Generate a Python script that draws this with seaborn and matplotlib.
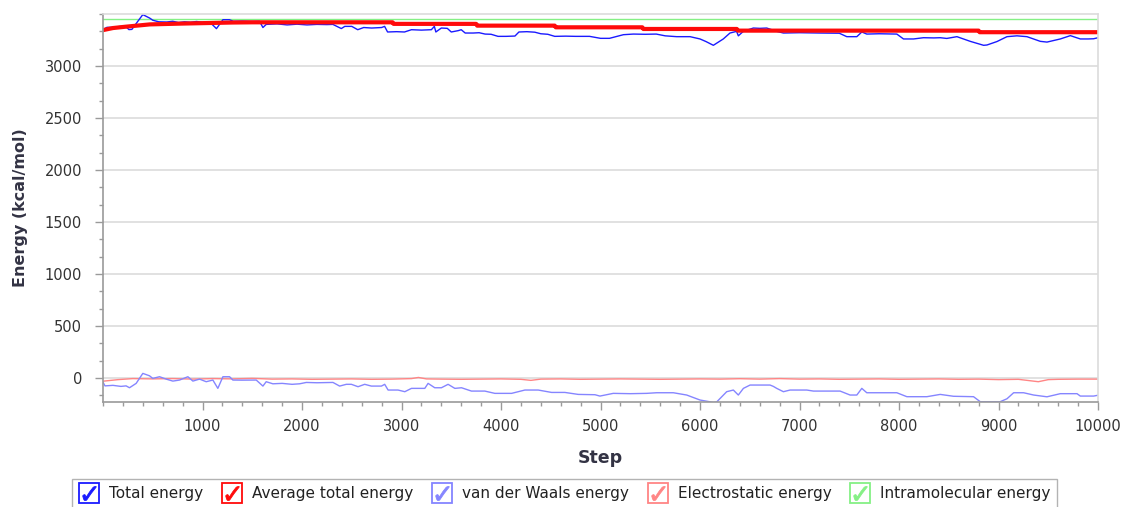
import matplotlib
matplotlib.use("Agg")
import matplotlib.pyplot as plt
from matplotlib.lines import Line2D
from matplotlib.legend_handler import HandlerTuple
from matplotlib.ticker import MultipleLocator, AutoMinorLocator
import seaborn as sns
import pandas as pd

# ---- series data (step, kcal/mol) ----
total_steps = [0, 40, 100, 170, 230, 260, 290, 350, 400, 470, 500, 560, 640, 700, 760, 820, 880,
               940, 1000, 1070, 1140, 1205, 1270, 1310, 1400, 1500, 1573, 1607, 1640, 1750, 1850,
               1950, 2050, 2150, 2250, 2310, 2395, 2430, 2500, 2560, 2620, 2700, 2800, 2830, 2860,
               2950, 3030, 3100, 3200, 3300, 3330, 3345, 3400, 3460, 3500, 3570, 3600, 3640, 3720,
               3780, 3840, 3900, 3970, 4050, 4140, 4180, 4260, 4340, 4400, 4470, 4540, 4650, 4750,
               4890, 5000, 5090, 5230, 5330, 5450, 5560, 5650, 5765, 5900, 6000, 6060, 6134, 6234,
               6301, 6368, 6385, 6435, 6536, 6600, 6670, 6771, 6838, 7000, 7200, 7400, 7475, 7576,
               7626, 7676, 7800, 7978, 8045, 8146, 8246, 8350, 8414, 8480, 8582, 8716, 8850, 8884,
               8984, 9085, 9185, 9286, 9420, 9487, 9621, 9722, 9822, 9900, 9956, 10000]
total_energy = [3349, 3372, 3372, 3380, 3378, 3350, 3352, 3430, 3494, 3460, 3440, 3425, 3423, 3430,
                3418, 3425, 3420, 3428, 3420, 3425, 3359, 3445, 3445, 3430, 3432, 3428, 3430, 3370,
                3400, 3405, 3395, 3402, 3395, 3400, 3398, 3400, 3360, 3381, 3381, 3349, 3370, 3365,
                3370, 3381, 3327, 3330, 3327, 3349, 3345, 3349, 3381, 3327, 3365, 3362, 3327, 3340,
                3349, 3317, 3317, 3320, 3307, 3305, 3285, 3285, 3288, 3327, 3330, 3325, 3310, 3305,
                3285, 3287, 3285, 3285, 3266, 3266, 3301, 3307, 3305, 3307, 3290, 3282, 3282, 3260,
                3235, 3199, 3260, 3317, 3333, 3290, 3333, 3365, 3362, 3365, 3333, 3317, 3320, 3317,
                3315, 3282, 3282, 3327, 3307, 3310, 3307, 3260, 3260, 3272, 3270, 3272, 3265, 3282,
                3237, 3199, 3202, 3235, 3282, 3290, 3282, 3237, 3230, 3260, 3292, 3260, 3260, 3262,
                3272]

avg_steps = [0, 100, 230, 470, 800, 1300, 1500, 2910, 2920, 3750, 3760, 4540, 4550, 5420, 5430,
             6370, 6380, 8800, 8810, 10000]
avg_energy = [3345, 3365, 3378, 3400, 3408, 3418, 3420, 3420, 3405, 3405, 3388, 3388, 3372, 3372,
              3356, 3356, 3340, 3340, 3325, 3325]

vdw_steps = [0, 20, 100, 180, 232, 266, 333, 400, 467, 500, 568, 635, 702, 769, 853, 903, 970,
             1037, 1104, 1154, 1205, 1272, 1305, 1400, 1540, 1607, 1640, 1707, 1800, 1900, 1976,
             2043, 2150, 2311, 2378, 2445, 2496, 2563, 2630, 2697, 2798, 2831, 2865, 2965, 3033,
             3100, 3234, 3267, 3334, 3401, 3468, 3536, 3603, 3703, 3837, 3938, 4106, 4240, 4374,
             4508, 4642, 4776, 4944, 4994, 5128, 5300, 5463, 5564, 5732, 5866, 6000, 6134, 6167,
             6268, 6335, 6385, 6436, 6503, 6637, 6704, 6737, 6771, 6838, 6905, 7073, 7140, 7408,
             7508, 7576, 7626, 7676, 7810, 7978, 8079, 8280, 8414, 8548, 8749, 8816, 9017, 9085,
             9152, 9252, 9353, 9487, 9621, 9789, 9822, 9956, 10000]
vdw_energy = [-40, -75, -70, -80, -75, -93, -51, 45, 22, -3, 13, -10, -29, -19, 13, -29, -10,
              -35, -19, -99, 13, 13, -19, -20, -19, -77, -35, -55, -51, -60, -55, -42, -45, -42,
              -77, -60, -60, -83, -60, -77, -77, -60, -115, -115, -131, -99, -99, -51, -93, -93,
              -60, -99, -93, -125, -125, -147, -147, -115, -115, -138, -138, -157, -160, -173,
              -147, -150, -147, -141, -141, -163, -211, -234, -230, -131, -115, -163, -99, -67,
              -67, -67, -80, -99, -131, -115, -115, -125, -125, -163, -163, -99, -141, -141, -141,
              -179, -179, -157, -175, -179, -227, -227, -199, -141, -141, -163, -180, -150, -150,
              -173, -173, -165]

elec_steps = [0, 150, 300, 500, 700, 900, 1100, 1300, 1500, 1700, 1900, 2100, 2300, 2500, 2700,
              2900, 3100, 3170, 3250, 3400, 3600, 3800, 4000, 4200, 4300, 4400, 4600, 4800, 5000,
              5200, 5400, 5600, 5800, 6000, 6200, 6400, 6600, 6800, 7000, 7200, 7400, 7600, 7800,
              8000, 8200, 8400, 8600, 8800, 9000, 9200, 9400, 9500, 9600, 9800, 10000]
elec_energy = [-30, -15, -5, -8, -5, -10, -5, -8, -3, -10, -8, -12, -10, -8, -12, -10, -5, 6, -8,
               -10, -12, -10, -8, -12, -22, -10, -8, -12, -10, -8, -10, -12, -10, -8, -10, -6, -10,
               -5, -10, -8, -12, -10, -8, -12, -10, -8, -12, -10, -15, -12, -35, -15, -12, -10, -10]

intra_steps = [0, 10000]
intra_energy = [3455, 3455]

x_ticks = [1000, 2000, 3000, 4000, 5000, 6000, 7000, 8000, 9000, 10000]
y_ticks = [0, 500, 1000, 1500, 2000, 2500, 3000]

series = [
    ("Total energy", total_steps, total_energy, "#1a1aff", 1.0),
    ("Average total energy", avg_steps, avg_energy, "#ff0a0a", 3.0),
    ("van der Waals energy", vdw_steps, vdw_energy, "#8585ff", 1.0),
    ("Electrostatic energy", elec_steps, elec_energy, "#ff8585", 1.0),
    ("Intramolecular energy", intra_steps, intra_energy, "#85f085", 1.0),
]

sns.set_theme(style="white")
plt.rcParams["font.family"] = ["DejaVu Sans"]

fig = plt.figure(figsize=(11.21, 5.07), dpi=100)
ax = fig.add_axes([0.0919, 0.2071, 0.8876, 0.7653])

# draw lower-energy components first, totals on top
order = [4, 3, 2, 0, 1]
for i in order:
    name, xs, ys, col, lw = series[i]
    df = pd.DataFrame({"Step": xs, "Energy": ys})
    sns.lineplot(data=df, x="Step", y="Energy", color=col, linewidth=lw,
                 estimator=None, sort=False, ax=ax, legend=False)

ax.set_xlim(0, 10000)
ax.set_ylim(-230, 3500)
ax.set_xticks(x_ticks)
ax.set_yticks(y_ticks)
ax.xaxis.set_minor_locator(MultipleLocator(200))
ax.yaxis.set_minor_locator(AutoMinorLocator(3))
ax.grid(axis="y", which="major", color="#dcdcdc", linewidth=1.2)
ax.set_axisbelow(True)

ax.tick_params(axis="y", which="major", length=6, width=1, color="#9a9a9a", pad=9,
               labelsize=10.5, labelcolor="#333333", direction="out", left=True)
ax.tick_params(axis="x", which="major", length=6, width=1, color="#9a9a9a", pad=6,
               labelsize=10.5, labelcolor="#333333", direction="out", bottom=True)
ax.tick_params(axis="both", which="minor", length=3, width=1, color="#9a9a9a",
               direction="out", left=True, bottom=True)

ax.spines["left"].set_color("#9a9a9a")
ax.spines["bottom"].set_color("#9a9a9a")
ax.spines["top"].set_color("#dcdcdc")
ax.spines["right"].set_color("#dcdcdc")
for sp in ax.spines.values():
    sp.set_linewidth(1.2)

ax.set_xlabel("Step", fontsize=12.5, fontweight="heavy", color="#333344")
ax.set_ylabel("Energy (kcal/mol)", fontsize=11.5, fontweight="heavy", color="#333344")
ax.xaxis.set_label_coords(0.5, -0.12)
ax.yaxis.set_label_coords(-0.075, 0.5)

# checkbox-style legend entries
handles = []
for name, xs, ys, col, lw in series:
    box = Line2D([], [], marker="s", markersize=14, markerfacecolor="white",
                 markeredgecolor=col, markeredgewidth=1.3, linestyle="none")
    tick = Line2D([], [], marker=r"$\checkmark$", markersize=10, color=col,
                  markeredgewidth=0.6, linestyle="none")
    handles.append((box, tick))
labels = [s[0] for s in series]

leg = fig.legend(handles, labels, handler_map={tuple: HandlerTuple(ndivide=1, pad=0)},
                 loc="upper left", bbox_to_anchor=(72 / 1121, 1 - 479 / 507),
                 ncol=5, frameon=True, fancybox=False, fontsize=11,
                 handlelength=1.3, handletextpad=0.65, columnspacing=1.25,
                 borderpad=0.45, borderaxespad=0)
leg.get_frame().set_edgecolor("#a0a0a0")
leg.get_frame().set_linewidth(1.0)
for t in leg.get_texts():
    t.set_color("#222222")

fig.savefig("out.png", dpi=100)
